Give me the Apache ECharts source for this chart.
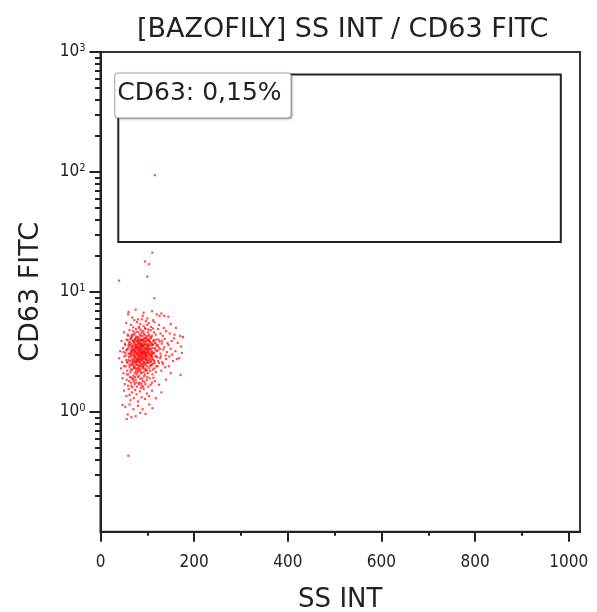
<!DOCTYPE html>
<html><head><meta charset="utf-8">
<script src="https://cdn.jsdelivr.net/npm/echarts@6/dist/echarts.min.js"></script>
<style>html,body{margin:0;padding:0;background:#fff}#c{width:597px;height:612px}</style>
</head><body><div id="c"></div>
<script>
const titleText = '[BAZOFILY] SS INT / CD63 FITC';
const xName = 'SS INT';
const yName = 'CD63 FITC';
const xMajorTicks = [0, 200, 400, 600, 800, 1000];
const xMinorTicks = [100, 300, 500, 700, 900];
const yMajorTicks = [1, 10, 100, 1000];
const yMinorTicks = [0.2,0.3,0.4,0.5,0.6,0.7,0.8,0.9,2,3,4,5,6,7,8,9,20,30,40,50,60,70,80,90,200,300,400,500,600,700,800,900];
const xRange = [0, 1024];
const yRange = [0.1, 1000];
const gateX = [38, 983];
const gateY = [26, 650];
const gateLabel = 'CD63: 0,15%';

const events = [
[60,6.8],[75,7.1],[110,6.9],[120,6.5],[130,6.6],[90,6.3],[145,6.2],[100,6.0],[80,5.9],[68,6.1],[59,6.5],[92,6.7],[126,6.3],[136,6.3],
[55,5.5],[65,5.3],[72,5.8],[78,5.6],[85,5.4],[88,5.9],[92,5.2],[97,5.7],[103,5.5],[108,5.1],[115,5.6],[125,5.3],[135,5.0],[150,5.4],[161,5.0],[82,5.1],[95,5.0],[70,5.05],[100,5.3],[112,5.8],
[50,4.6],[58,4.4],[62,4.8],[66,4.3],[70,4.7],[73,4.5],[76,4.9],[79,4.2],[81,4.6],[84,4.4],[86,4.8],[89,4.3],[91,4.7],[93,4.5],[96,4.9],[98,4.25],[101,4.6],[104,4.4],[107,4.8],[110,4.3],[114,4.6],[118,4.4],[123,4.9],[128,4.5],[133,4.3],[140,4.7],[148,4.5],[158,4.4],[170,4.3],[176,4.2],[83,4.95],[88,4.55],[94,4.35],[77,4.65],[68,4.4],[102,4.85],[112,4.95],
[45,3.9],[52,3.7],[56,4.0],[60,3.6],[63,3.85],[65,4.1],[68,3.55],[70,3.95],[72,3.75],[74,4.05],[76,3.6],[78,3.9],[80,3.7],[82,4.15],[83,3.55],[85,3.8],[87,4.0],[88,3.65],[90,3.9],[92,3.75],[93,4.1],[95,3.6],[97,3.85],[99,4.0],[100,3.7],[102,3.55],[104,3.95],[106,3.8],[108,4.1],[111,3.65],[113,3.9],[116,3.75],[119,4.0],[122,3.6],[126,3.85],[131,3.7],[137,4.05],[145,3.6],[152,3.9],[165,3.75],[174,3.1],[71,3.82],[79,3.62],[86,3.98],[91,3.58],[96,4.12],[84,3.72],[94,3.88],[75,4.12],[81,3.95],[89,3.52],[103,4.05],[109,3.62],[66,3.7],[58,3.95],
[42,3.2],[48,3.4],[53,3.1],[57,3.3],[60,3.45],[62,3.05],[64,3.25],[66,3.4],[68,3.15],[70,3.35],[71,3.0],[73,3.2],[74,3.45],[76,3.1],[77,3.3],[79,3.05],[80,3.4],[81,3.2],[83,3.35],[84,3.0],[85,3.15],[86,3.45],[88,3.25],[89,3.1],[90,3.35],[91,3.0],[93,3.2],[94,3.4],[95,3.1],[97,3.3],[98,3.05],[100,3.25],[101,3.45],[103,3.15],[105,3.35],[107,3.0],[109,3.2],[111,3.4],[114,3.1],[117,3.3],[120,3.2],[124,3.45],[128,3.05],[134,3.3],[142,3.15],[150,3.35],[160,3.2],[72,3.28],[78,3.42],[82,3.12],[87,3.32],[92,3.22],[96,3.02],[99,3.38],[67,3.22],[75,3.38],[84,3.28],[88,3.08],[102,3.32],[65,3.12],[110,3.05],[55,3.25],
[40,2.8],[46,2.6],[51,2.9],[55,2.7],[58,2.55],[61,2.85],[63,2.65],[65,2.95],[67,2.75],[69,2.55],[70,2.9],[72,2.6],[73,2.8],[75,2.5],[76,2.95],[78,2.7],[79,2.85],[81,2.6],[82,2.9],[83,2.75],[85,2.55],[86,2.85],[87,2.65],[89,2.95],[90,2.7],[91,2.5],[93,2.8],[94,2.6],[96,2.9],[97,2.7],[99,2.55],[100,2.85],[102,2.65],[104,2.95],[106,2.75],[108,2.6],[110,2.85],[113,2.7],[116,2.55],[119,2.9],[123,2.65],[127,2.8],[132,2.6],[140,2.75],[147,2.9],[155,2.65],[168,2.8],[74,2.68],[80,2.78],[84,2.62],[88,2.82],[92,2.58],[95,2.78],[98,2.92],[71,2.72],[77,2.58],[86,2.72],[101,2.58],[60,2.7],[66,2.52],[109,2.92],[112,2.52],
[44,2.3],[49,2.1],[54,2.4],[57,2.2],[60,2.05],[62,2.35],[64,2.15],[66,2.45],[68,2.25],[70,2.0],[72,2.4],[73,2.1],[75,2.3],[77,2.05],[78,2.45],[80,2.2],[82,2.35],[83,2.0],[85,2.25],[87,2.4],[88,2.1],[90,2.3],[92,2.15],[94,2.45],[95,2.05],[97,2.25],[99,2.4],[101,2.1],[103,2.3],[106,2.2],[108,2.45],[111,2.05],[115,2.3],[118,2.15],[122,2.4],[130,2.2],[138,2.35],[150,2.1],[171,2.03],[76,2.18],[81,2.28],[86,2.12],[91,2.38],[96,2.22],[71,2.32],[84,2.42],[79,2.12],
[47,1.9],[52,1.7],[56,1.85],[59,1.65],[63,1.95],[65,1.75],[68,1.6],[70,1.9],[73,1.7],[75,1.85],[78,1.62],[80,1.95],[83,1.75],[85,1.88],[88,1.65],[90,1.8],[93,1.98],[96,1.7],[99,1.85],[102,1.62],[105,1.9],[110,1.75],[116,1.8],[125,1.68],[140,1.85],[72,1.78],[87,1.72],[66,1.92],
[50,1.5],[55,1.35],[60,1.55],[64,1.25],[67,1.45],[71,1.3],[74,1.52],[77,1.4],[80,1.22],[84,1.48],[88,1.32],[92,1.55],[95,1.28],[99,1.42],[104,1.35],[110,1.5],[118,1.3],[130,1.45],[62,1.38],[86,1.58],
[53,1.1],[58,0.95],[62,1.15],[66,0.9],[70,1.05],[75,0.92],[80,1.12],[85,0.98],[90,1.05],[96,0.96],[104,1.15],[111,1.07],[47,1.14],[56,0.87],
[63,3.6],[64,2.9],[66,3.05],[67,4.2],[68,2.65],[69,3.3],[69,3.9],[70,2.45],[71,3.55],[71,4.4],[72,2.95],[72,3.1],[73,3.65],[73,2.35],[74,2.85],[74,3.95],[75,3.2],[75,2.6],[76,3.45],[76,4.25],[77,2.75],[77,3.85],[78,3.05],[78,2.3],[79,3.5],[79,2.65],[80,3.0],[80,4.05],[81,2.45],[81,3.75],[82,3.25],[82,2.7],[83,3.9],[83,2.9],[84,3.45],[84,2.2],[85,3.6],[85,2.95],[86,3.15],[86,4.3],[87,2.5],[87,3.7],[88,3.0],[88,3.5],[89,2.75],[89,4.0],[90,3.15],[90,2.4],[91,3.6],[91,2.85],[92,3.95],[92,3.05],[93,2.6],[93,3.45],[94,3.15],[94,2.3],[95,3.7],[95,2.95],[96,3.35],[96,2.5],[97,4.1],[97,3.05],[98,2.75],[98,3.6],[99,3.15],[99,2.2],[100,3.5],[100,2.7],[101,3.9],[101,2.95],[102,3.1],[102,4.3],[103,2.55],[103,3.65],[104,3.25],[104,2.8],[105,3.85],[105,2.4],[106,3.05],[106,3.55],[107,2.65],[107,4.2],[108,3.35],[108,2.9],[109,3.75],[109,2.45],[110,3.15],[111,2.75],[112,3.6],[112,2.25],[113,3.05],[114,3.95],[115,2.65],[116,3.4],[117,2.9],[118,3.7],[119,2.4],[120,3.55],[121,2.85],[122,3.25],[124,4.0],[125,2.55],[127,3.35],[129,2.9],[131,3.9],[133,2.5],[136,3.45],[139,2.95],[143,3.75],[146,2.4],[153,3.0],[157,4.1],[163,2.75],[172,3.5],
[60,3.05],[61,3.75],[62,2.45],[64,4.05],[65,2.25],[67,3.5],[57,2.6],[58,3.35],[54,2.95],[53,3.6],[50,2.4],[49,3.15],[56,2.05],[59,4.3],[61,1.8],[69,1.85],[74,1.95],[82,1.7],[89,1.9],[94,1.78],[100,1.95],[107,1.68],[113,1.92],[66,1.65],[77,1.75],[91,1.62],
[59.5,0.43],[116,94],[110.7,21.2],[95,17.9],[104,17.0],[39.5,12.4],[100,13.4],[115,8.85]
];

const FONT = 'DejaVu Sans, sans-serif';
const FONTC = 'DejaVu Sans Condensed, DejaVu Sans, sans-serif';
const TXT = '#222';
const chart = echarts.init(document.getElementById('c'), null, {renderer: 'canvas'});
chart.setOption({
  animation: false,
  backgroundColor: '#fff',
  title: {text: titleText, left: 132, top: 11, textStyle: {fontFamily: FONT, fontSize: 27, fontWeight: 'normal', color: TXT}},
  grid: {left: 100.5, top: 52, right: 17, bottom: 80.3, show: true, borderColor: '#333', borderWidth: 2, outerBoundsMode: 'none', containLabel: false},
  xAxis: [
    {type: 'value', min: xRange[0], max: xRange[1], name: xName, nameLocation: 'middle', nameGap: 56,
     nameTextStyle: {fontFamily: FONT, fontSize: 26, color: TXT},
     axisLine: {onZero: false, lineStyle: {color: '#222', width: 2}},
     axisTick: {customValues: xMajorTicks, length: 10, lineStyle: {color: '#222', width: 2}},
     axisLabel: {customValues: xMajorTicks, margin: 22, fontFamily: FONTC, fontSize: 17, color: TXT, formatter: v => String(v)},
     splitLine: {show: false}},
    {type: 'value', min: xRange[0], max: xRange[1], position: 'bottom',
     axisLine: {show: false},
     axisTick: {customValues: xMinorTicks, length: 4, lineStyle: {color: '#222', width: 2}},
     axisLabel: {show: false}, splitLine: {show: false}}
  ],
  yAxis: [
    {type: 'log', logBase: 10, min: yRange[0], max: yRange[1], name: yName, nameLocation: 'middle', nameGap: 56,
     nameTextStyle: {fontFamily: FONT, fontSize: 27, color: TXT},
     axisLine: {onZero: false, lineStyle: {color: '#222', width: 2}},
     axisTick: {customValues: yMajorTicks, length: 11, lineStyle: {color: '#222', width: 2}},
     axisLabel: {customValues: yMajorTicks, margin: 15, color: TXT,
       formatter: v => '{b|10}{s|' + Math.round(Math.log10(v)) + '}',
       rich: {b: {fontFamily: FONTC, fontSize: 17, color: TXT}, s: {fontFamily: FONTC, fontSize: 11, color: TXT, verticalAlign: 'top', padding: [0,0,8,0]}}},
     splitLine: {show: false}},
    {type: 'log', logBase: 10, min: yRange[0], max: yRange[1], position: 'left',
     axisLine: {show: false},
     axisTick: {customValues: yMinorTicks, length: 5.5, lineStyle: {color: '#222', width: 2}},
     axisLabel: {show: false}, splitLine: {show: false}}
  ],
  series: [{
    type: 'scatter', xAxisIndex: 0, yAxisIndex: 0, symbol: 'rect', symbolSize: 2.2,
    itemStyle: {color: 'rgba(255,0,0,0.85)'},
    data: events,
    markArea: {
      silent: true,
      itemStyle: {color: 'rgba(0,0,0,0)', borderColor: '#222', borderWidth: 2},
      label: {show: true, position: 'insideTopLeft', distance: 0, offset: [-2, 0], formatter: gateLabel,
        fontFamily: FONT, fontSize: 25, color: TXT, backgroundColor: '#fff', borderColor: '#aaa', borderWidth: 1,
        borderRadius: 3, padding: [8, 9, 11, 2], shadowColor: 'rgba(0,0,0,0.25)', shadowBlur: 2, shadowOffsetX: 1, shadowOffsetY: 1},
      data: [[{coord: [gateX[0], gateY[1]]}, {coord: [gateX[1], gateY[0]]}]]
    }
  }]
});
</script></body></html>
